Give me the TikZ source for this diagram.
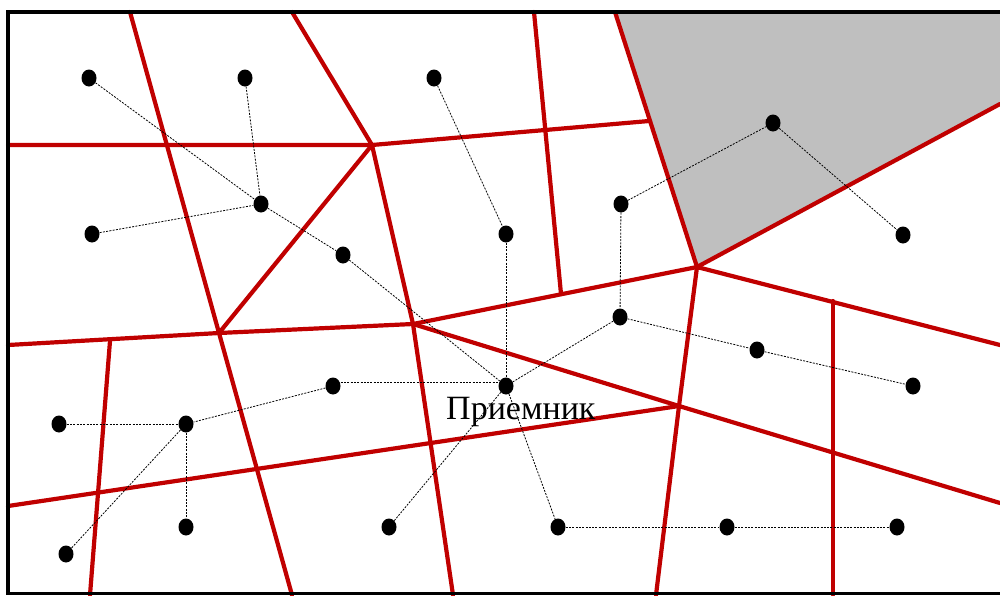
\documentclass[tikz,border=0pt]{standalone}
\usepackage{fontspec}
\setmainfont{Liberation Serif}
\usetikzlibrary{shapes.geometric}
\definecolor{vred}{RGB}{192,0,0}
\definecolor{cellgray}{RGB}{191,191,191}
\begin{document}
\begin{tikzpicture}[x=1pt,y=-1pt,
  dot/.style={ellipse,fill=black,inner sep=0pt,minimum width=15pt,minimum height=17pt},
  conn/.style={draw=black,line width=0.8pt,dash pattern=on 2pt off 1.3pt},
  edge/.style={draw=vred,line width=4.2pt,line cap=round,line join=round},
  frame/.style={draw=black,line width=3.2pt}]
\useasboundingbox (0,0) rectangle (1000,595);
% gray cell
\fill[cellgray] (615,12) -- (1000,12) -- (1000,104) -- (697,267) -- cycle;
% voronoi vertices
\coordinate (v1) at (372,145);
\coordinate (v2) at (219,333);
\coordinate (v3) at (413,324);
\coordinate (v4) at (697,267);
\coordinate (v5) at (679,406);
% red edges
\draw[edge] (130,12) -- (v2) -- (292,595);
\draw[edge] (8,145) -- (v1) -- (649,121);
\draw[edge] (292,12) -- (v1);
\draw[edge] (v1) -- (v2);
\draw[edge] (v1) -- (v3) -- (453,595);
\draw[edge] (8,345) -- (v2) -- (v3) -- (v4);
\draw[edge] (v3) -- (v5) -- (1000,503);
\draw[edge] (8,506) -- (v5);
\draw[edge] (110,341) -- (90,595);
\draw[edge] (534,12) -- (561,294);
\draw[edge] (615,12) -- (v4) -- (1000,104);
\draw[edge] (v4) -- (v5) -- (656,595);
\draw[edge] (v4) -- (1000,345);
\draw[edge] (833,301) -- (833,595);
% frame
\draw[frame] (1000,12) -- (8,12) -- (8,593.5) -- (1000,593.5);
% dots
\node[dot] (A) at (89,78) {};
\node[dot] (B) at (245,78) {};
\node[dot] (C) at (434,78) {};
\node[dot] (D) at (773,123) {};
\node[dot] (E) at (261,204) {};
\node[dot] (F) at (92,234) {};
\node[dot] (G) at (621,204) {};
\node[dot] (H) at (506,234) {};
\node[dot] (I) at (903,235) {};
\node[dot] (J) at (343,255) {};
\node[dot] (K) at (620,317) {};
\node[dot] (L) at (757,350) {};
\node[dot] (M) at (913,386) {};
\node[dot] (N) at (333,386) {};
\node[dot] (O) at (506,386) {};
\node[dot] (P) at (59,424) {};
\node[dot] (Q) at (186,424) {};
\node[dot] (R) at (186,527) {};
\node[dot] (S) at (389,527) {};
\node[dot] (T) at (558,527) {};
\node[dot] (U) at (727,527) {};
\node[dot] (V) at (897,527) {};
\node[dot] (W) at (66,554) {};
% dashed links
\draw[conn] (A) -- (E);
\draw[conn] (B) -- (E);
\draw[conn] (F) -- (E);
\draw[conn] (E) -- (J);
\draw[conn] (J) -- (O);
\draw[conn] (C) -- (H);
\draw[conn] (H) -- (O);
\draw[conn] (G) -- (D);
\draw[conn] (D) -- (I);
\draw[conn] (G) -- (K);
\draw[conn] (K) -- (O);
\draw[conn] (K) -- (L);
\draw[conn] (L) -- (M);
\draw[conn] ([yshift=4pt]N.east) -- ([yshift=4pt]O.west);
\draw[conn] (N) -- (Q);
\draw[conn] (P) -- (Q);
\draw[conn] (Q) -- (R);
\draw[conn] (Q) -- (W);
\draw[conn] (S) -- (O);
\draw[conn] (O) -- (T);
\draw[conn] (T) -- (U);
\draw[conn] (U) -- (V);
% label
\node[inner sep=0pt,anchor=base west] (lbl) at (446,419) {\fontsize{34}{40}\selectfont Приемник};
\end{tikzpicture}
\end{document}
